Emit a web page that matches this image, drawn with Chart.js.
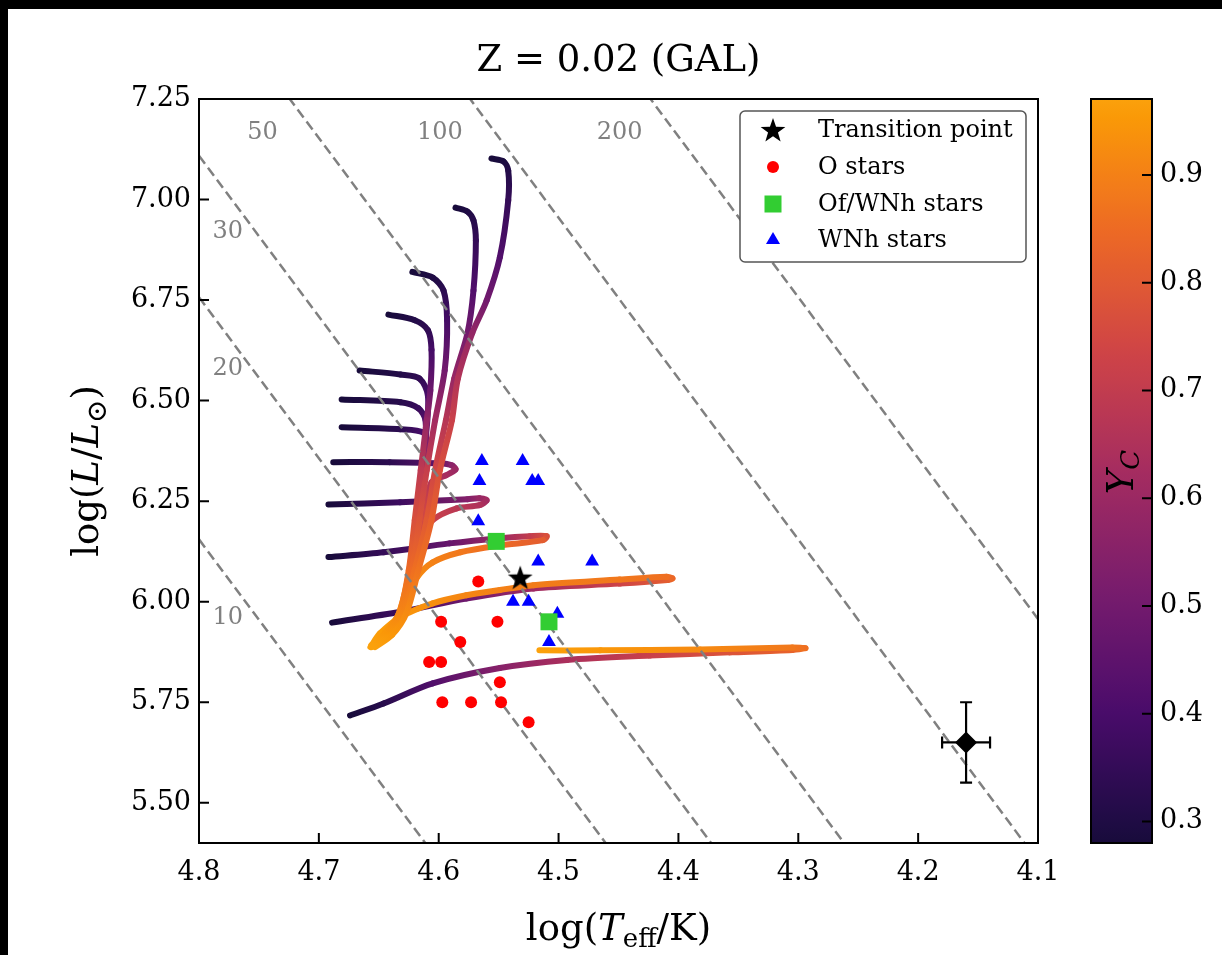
<!DOCTYPE html>
<html>
<head>
<meta charset="utf-8">
<script src="https://cdn.jsdelivr.net/npm/chart.js@4.4.1/dist/chart.umd.min.js"></script>
<style>
  html, body { margin: 0; padding: 0; background: #fff; }
  canvas { display: block; }
</style>
</head>
<body>
<canvas id="hrd" width="1222" height="955" style="width:1222px;height:955px"></canvas>
<script>
// evolutionary tracks: [log Teff, log L, Yc]
const track1 = [[4.556,7.102,0.28],[4.546,7.095,0.29],[4.542,7.072,0.31],[4.542,6.998,0.35],[4.549,6.856,0.42],[4.560,6.749,0.50],[4.572,6.668,0.58],[4.584,6.555,0.66],[4.589,6.451,0.72],[4.599,6.327,0.77],[4.606,6.203,0.82],[4.617,6.078,0.87],[4.627,5.971,0.92],[4.639,5.917,0.95],[4.653,5.887,0.97]];
const track2 = [[4.586,6.980,0.28],[4.576,6.970,0.30],[4.571,6.948,0.32],[4.569,6.898,0.35],[4.571,6.774,0.42],[4.576,6.668,0.50],[4.587,6.555,0.59],[4.594,6.451,0.67],[4.603,6.327,0.74],[4.610,6.203,0.80],[4.620,6.078,0.86],[4.629,5.971,0.91],[4.641,5.917,0.95],[4.655,5.892,0.97]];
const track3 = [[4.622,6.820,0.28],[4.605,6.806,0.30],[4.596,6.774,0.33],[4.593,6.700,0.39],[4.595,6.575,0.50],[4.603,6.451,0.62],[4.610,6.327,0.71],[4.616,6.203,0.78],[4.622,6.078,0.85],[4.631,5.971,0.91],[4.643,5.917,0.95],[4.656,5.892,0.97]];
const track4 = [[4.642,6.714,0.28],[4.620,6.700,0.31],[4.609,6.675,0.34],[4.606,6.626,0.39],[4.607,6.525,0.48],[4.610,6.451,0.58],[4.615,6.327,0.69],[4.620,6.203,0.77],[4.625,6.078,0.85],[4.633,5.971,0.91],[4.645,5.922,0.95],[4.656,5.892,0.97]];
const track5 = [[4.666,6.575,0.28],[4.632,6.565,0.31],[4.616,6.555,0.34],[4.609,6.512,0.40],[4.611,6.401,0.52],[4.616,6.277,0.66],[4.621,6.153,0.76],[4.626,6.053,0.84],[4.634,5.966,0.91],[4.646,5.917,0.95],[4.656,5.887,0.97]];
const track6 = [[4.681,6.503,0.28],[4.632,6.496,0.32],[4.617,6.481,0.36],[4.611,6.451,0.43],[4.612,6.352,0.55],[4.616,6.227,0.68],[4.621,6.116,0.78],[4.627,6.016,0.87],[4.636,5.949,0.93],[4.651,5.899,0.97]];
const track7 = [[4.681,6.434,0.28],[4.632,6.429,0.33],[4.613,6.421,0.40],[4.610,6.389,0.46],[4.612,6.302,0.60],[4.617,6.178,0.73],[4.623,6.066,0.83],[4.631,5.979,0.90],[4.643,5.922,0.95],[4.654,5.889,0.97]];
const track8 = [[4.688,6.347,0.28],[4.641,6.347,0.33],[4.599,6.344,0.46],[4.589,6.339,0.56],[4.586,6.329,0.60],[4.594,6.314,0.63],[4.606,6.297,0.67],[4.612,6.227,0.74],[4.617,6.128,0.81],[4.624,6.029,0.88],[4.635,5.954,0.93],[4.651,5.897,0.97]];
const track9 = [[4.692,6.242,0.28],[4.632,6.247,0.37],[4.576,6.255,0.54],[4.566,6.257,0.59],[4.560,6.252,0.62],[4.566,6.240,0.65],[4.585,6.232,0.68],[4.605,6.203,0.72],[4.611,6.165,0.76],[4.616,6.103,0.82],[4.624,6.024,0.88],[4.635,5.949,0.93],[4.652,5.897,0.97]];
const track10 = [[4.692,6.111,0.28],[4.646,6.123,0.35],[4.591,6.145,0.47],[4.549,6.158,0.60],[4.524,6.163,0.70],[4.510,6.163,0.77],[4.513,6.153,0.81],[4.549,6.140,0.85],[4.582,6.123,0.88],[4.605,6.098,0.90],[4.618,6.061,0.92],[4.626,6.011,0.94],[4.635,5.954,0.96],[4.652,5.897,0.97]];
const track11 = [[4.689,5.948,0.28],[4.632,5.975,0.37],[4.577,6.008,0.49],[4.521,6.033,0.61],[4.449,6.045,0.73],[4.409,6.054,0.81],[4.405,6.058,0.84],[4.410,6.062,0.86],[4.449,6.055,0.88],[4.521,6.041,0.89],[4.549,6.029,0.90],[4.577,6.016,0.91],[4.605,5.996,0.93],[4.632,5.962,0.95],[4.649,5.921,0.96],[4.657,5.887,0.97]];
const track12 = [[4.674,5.717,0.28],[4.646,5.747,0.32],[4.605,5.797,0.42],[4.549,5.835,0.55],[4.493,5.855,0.64],[4.424,5.866,0.72],[4.357,5.874,0.78],[4.305,5.880,0.83],[4.294,5.884,0.86],[4.305,5.886,0.88],[4.382,5.881,0.92],[4.465,5.879,0.95],[4.516,5.879,0.97]];
const tracks = [track1, track2, track3, track4, track5, track6, track7, track8, track9, track10, track11, track12];

// observed stars
const oStarsT = [4.567, 4.598, 4.551, 4.582, 4.608, 4.598, 4.549, 4.597, 4.573, 4.548, 4.525];
const oStarsL = [6.05, 5.95, 5.95, 5.90, 5.85, 5.85, 5.80, 5.75, 5.75, 5.75, 5.70];
const ofStarsT = [4.552, 4.508];
const ofStarsL = [6.15, 5.95];
const wnhT = [4.564, 4.530, 4.566, 4.522, 4.517, 4.567, 4.517, 4.472, 4.538, 4.525, 4.501, 4.507, 4.508];
const wnhL = [6.35, 6.35, 6.30, 6.30, 6.30, 6.20, 6.10, 6.10, 6.00, 6.00, 5.97, 5.95, 5.90];
const transT = [4.532];
const transL = [6.06];

// typical uncertainty
const errT = [4.16];
const errL = [5.65];
const errDT = [0.02];
const errDL = [0.10];

// lines of constant radius (R/Rsun), log L where they meet logT = 4.8 and logT = 4.1
const isoRadius = [10, 20, 30, 50, 100, 200];
const isoL48 = [6.155, 6.757, 7.109, 7.553, 8.155, 8.757];
const isoL41 = [3.355, 3.957, 4.309, 4.753, 5.355, 5.957];
const isoLabelT = [4.776, 4.776, 4.776, 4.747, 4.599, 4.449];
const isoLabelL = [5.96, 6.58, 6.92, 7.165, 7.165, 7.165];

const xTicks = [4.8, 4.7, 4.6, 4.5, 4.4, 4.3, 4.2, 4.1];
const yTicks = [5.5, 5.75, 6.0, 6.25, 6.5, 6.75, 7.0, 7.25];
const cbTicks = [0.3, 0.4, 0.5, 0.6, 0.7, 0.8, 0.9];
const cbMin = 0.280, cbMax = 0.9705;

const SERIF = "'DejaVu Serif', serif";

// inferno samples at i/9
const inferno = ['#000004','#1b0c41','#4a0c6b','#781c6d','#a52c60','#cf4446','#ed6925','#fb9b06','#f7d13d','#fcffa4'];
const cmapLo = 0.1, cmapHi = 0.79;

function hexRgb(h) {
  return [parseInt(h.slice(1,3),16), parseInt(h.slice(3,5),16), parseInt(h.slice(5,7),16)];
}
function infernoAt(p) {
  const f = Math.max(0, Math.min(1, p)) * 9;
  const i = Math.min(8, Math.floor(f));
  const t = f - i;
  const a = hexRgb(inferno[i]), b = hexRgb(inferno[i + 1]);
  const c = a.map((v, k) => Math.round(v + (b[k] - v) * t));
  return `rgb(${c[0]},${c[1]},${c[2]})`;
}
function ycColor(v) {
  const t = Math.max(0, Math.min(1, (v - cbMin) / (cbMax - cbMin)));
  return infernoAt(cmapLo + t * (cmapHi - cmapLo));
}

function makeStar(r, color) {
  const c = document.createElement('canvas');
  const s = Math.ceil(2 * r + 4);
  c.width = s; c.height = s;
  const g = c.getContext('2d');
  g.translate(s / 2, s / 2 + 1);
  g.beginPath();
  for (let i = 0; i < 10; i++) {
    const rad = i % 2 ? r * 0.4 : r;
    const a = -Math.PI / 2 + i * Math.PI / 5;
    g.lineTo(rad * Math.cos(a), rad * Math.sin(a));
  }
  g.closePath();
  g.fillStyle = color;
  g.fill();
  return c;
}
const starImg = makeStar(13, '#000');

const zip = (xs, ys) => xs.map((x, i) => ({x: x, y: ys[i]}));

const datasets = [];

// observed stars on top
datasets.push({label: 'Transition point', data: zip(transT, transL), pointStyle: starImg, pointRadius: 12, order: 0, marker: 'star'});
datasets.push({label: 'O stars', data: zip(oStarsT, oStarsL), pointStyle: 'circle', pointRadius: 6,
  backgroundColor: '#ff0000', pointBorderWidth: 0, order: 0, marker: 'circle'});
datasets.push({label: 'Of/WNh stars', data: zip(ofStarsT, ofStarsL), pointStyle: 'rect', pointRadius: 12,
  backgroundColor: '#32cd32', pointBorderWidth: 0, order: 0, marker: 'square'});
datasets.push({label: 'WNh stars', data: zip(wnhT, wnhL), pointStyle: 'triangle', pointRadius: 8,
  backgroundColor: '#0000ff', pointBorderWidth: 0, order: 0, marker: 'triangle'});
datasets.push({label: 'err', data: zip(errT, errL), pointStyle: 'rectRot', pointRadius: 11,
  backgroundColor: '#000', pointBorderWidth: 0, order: 0});

isoRadius.forEach((r, i) => {
  datasets.push({
    label: 'R' + r, data: [{x: 4.8, y: isoL48[i]}, {x: 4.1, y: isoL41[i]}],
    showLine: true, borderColor: '#808080', borderWidth: 2.5, borderDash: [10, 5],
    pointRadius: 0, order: 1
  });
});

tracks.forEach((tr, i) => {
  datasets.push({
    label: 'track' + (i + 1),
    data: tr.map(p => ({x: p[0], y: p[1], yc: p[2]})),
    showLine: true, pointRadius: 0, borderWidth: 6, tension: 0.3,
    borderCapStyle: 'round', borderJoinStyle: 'round',
    borderColor: ycColor(tr[0][2]), order: 2,
    segment: {
      borderColor: (c) => {
        const d = c.chart.data.datasets[c.datasetIndex].data;
        const g = c.chart.ctx.createLinearGradient(c.p0.x, c.p0.y, c.p1.x + 0.01, c.p1.y + 0.01);
        g.addColorStop(0, ycColor(d[c.p0DataIndex].yc));
        g.addColorStop(1, ycColor(d[c.p1DataIndex].yc));
        return g;
      }
    }
  });
});

function richText(c, parts, x, y) {
  let w = 0;
  parts.forEach(p => { c.font = p.font; p.w = c.measureText(p.text).width; w += p.w; });
  let cx = x - w / 2;
  c.textAlign = 'left';
  c.textBaseline = 'alphabetic';
  parts.forEach(p => { c.font = p.font; c.fillText(p.text, cx, y + (p.dy || 0)); cx += p.w; });
}

function drawMarker(c, kind, x, y) {
  c.save();
  if (kind === 'star') {
    c.drawImage(starImg, x - starImg.width / 2, y - starImg.height / 2);
  } else if (kind === 'circle') {
    c.fillStyle = '#ff0000';
    c.beginPath(); c.arc(x, y, 6, 0, 2 * Math.PI); c.fill();
  } else if (kind === 'square') {
    c.fillStyle = '#32cd32';
    c.fillRect(x - 8.5, y - 8.5, 17, 17);
  } else if (kind === 'triangle') {
    c.fillStyle = '#0000ff';
    c.beginPath(); c.moveTo(x, y - 8); c.lineTo(x + 7, y + 4); c.lineTo(x - 7, y + 4);
    c.closePath(); c.fill();
  }
  c.restore();
}

const decorations = {
  id: 'decorations',
  beforeDraw(chart) {
    const c = chart.ctx;
    c.save();
    c.fillStyle = '#fff';
    c.fillRect(0, 0, chart.width, chart.height);
    c.fillStyle = '#000';
    c.fillRect(0, 0, chart.width, 9);
    c.fillRect(0, 0, 8, chart.height);
    c.restore();
  },
  afterDatasetsDraw(chart) {
    const c = chart.ctx, xs = chart.scales.x, ys = chart.scales.y;
    c.save();
    c.strokeStyle = '#000';
    c.lineWidth = 2.2;
    errT.forEach((t, i) => {
      const px = xs.getPixelForValue(t), py = ys.getPixelForValue(errL[i]);
      const x0 = xs.getPixelForValue(t + errDT[i]), x1 = xs.getPixelForValue(t - errDT[i]);
      const y0 = ys.getPixelForValue(errL[i] + errDL[i]), y1 = ys.getPixelForValue(errL[i] - errDL[i]);
      c.beginPath();
      c.moveTo(x0, py); c.lineTo(x1, py);
      c.moveTo(px, y0); c.lineTo(px, y1);
      c.moveTo(x0, py - 6); c.lineTo(x0, py + 6);
      c.moveTo(x1, py - 6); c.lineTo(x1, py + 6);
      c.moveTo(px - 6, y0); c.lineTo(px + 6, y0);
      c.moveTo(px - 6, y1); c.lineTo(px + 6, y1);
      c.stroke();
    });
    c.restore();
  },
  afterDraw(chart) {
    const c = chart.ctx, a = chart.chartArea, xs = chart.scales.x, ys = chart.scales.y;
    c.save();

    // iso-radius labels
    c.fillStyle = '#808080';
    c.font = '24px ' + SERIF;
    c.textAlign = 'center';
    c.textBaseline = 'middle';
    isoRadius.forEach((r, i) => {
      c.fillText(String(r), xs.getPixelForValue(isoLabelT[i]), ys.getPixelForValue(isoLabelL[i]));
    });

    // frame and inward ticks
    c.strokeStyle = '#000';
    c.lineWidth = 2;
    c.strokeRect(a.left, a.top, a.right - a.left, a.bottom - a.top);
    c.beginPath();
    xTicks.forEach(v => { const p = xs.getPixelForValue(v); c.moveTo(p, a.bottom); c.lineTo(p, a.bottom - 10); });
    yTicks.forEach(v => { const p = ys.getPixelForValue(v); c.moveTo(a.left, p); c.lineTo(a.left + 10, p); });
    c.stroke();

    // legend
    const lx = 740, ly = 111, lw = 286, lh = 151;
    c.beginPath();
    c.roundRect(lx, ly, lw, lh, 5);
    c.fillStyle = '#fff';
    c.fill();
    c.strokeStyle = '#555';
    c.lineWidth = 1.5;
    c.stroke();
    const rows = [130, 167, 204, 240];
    const entries = chart.data.datasets.filter(d => d.marker);
    c.font = '24px ' + SERIF;
    c.textAlign = 'left';
    c.textBaseline = 'middle';
    entries.forEach((d, i) => {
      drawMarker(c, d.marker, 773, rows[i]);
      c.fillStyle = '#000';
      c.fillText(d.label, 818, rows[i] + 1);
    });

    // colorbar
    const cx0 = 1091, cx1 = 1152, ct = a.top, cb = a.bottom;
    const grad = c.createLinearGradient(0, cb, 0, ct);
    for (let k = 0; k <= 40; k++) {
      grad.addColorStop(k / 40, infernoAt(cmapLo + (k / 40) * (cmapHi - cmapLo)));
    }
    c.fillStyle = grad;
    c.fillRect(cx0, ct, cx1 - cx0, cb - ct);
    c.strokeStyle = '#000';
    c.lineWidth = 2;
    c.strokeRect(cx0, ct, cx1 - cx0, cb - ct);
    const cbPix = v => cb - (v - cbMin) / (cbMax - cbMin) * (cb - ct);
    c.beginPath();
    cbTicks.forEach(v => { const p = cbPix(v); c.moveTo(cx1, p); c.lineTo(cx1 - 10, p); });
    c.stroke();
    c.font = '27px ' + SERIF;
    c.fillStyle = '#000';
    c.textAlign = 'left';
    c.textBaseline = 'middle';
    cbTicks.forEach(v => c.fillText(v.toFixed(1), 1160, cbPix(v)));
    c.save();
    c.translate(1133, 472);
    c.rotate(-Math.PI / 2);
    richText(c, [
      {text: 'Y', font: 'italic 37px ' + SERIF},
      {text: 'C', font: 'italic 26px ' + SERIF, dy: 6}
    ], 0, 0);
    c.restore();

    // title
    c.fillStyle = '#000';
    c.font = '37px ' + SERIF;
    c.textAlign = 'center';
    c.textBaseline = 'alphabetic';
    c.fillText('Z = 0.02 (GAL)', (a.left + a.right) / 2, 71);

    // x-axis title
    richText(c, [
      {text: 'log(', font: '37px ' + SERIF},
      {text: 'T', font: 'italic 37px ' + SERIF},
      {text: 'eff', font: '26px ' + SERIF, dy: 7},
      {text: '/K)', font: '37px ' + SERIF}
    ], (a.left + a.right) / 2, 940);

    // y-axis title
    c.save();
    c.translate(98, (a.top + a.bottom) / 2);
    c.rotate(-Math.PI / 2);
    richText(c, [
      {text: 'log(', font: '37px ' + SERIF},
      {text: 'L', font: 'italic 37px ' + SERIF},
      {text: '/', font: '37px ' + SERIF},
      {text: 'L', font: 'italic 37px ' + SERIF},
      {text: '\u2299', font: '28px ' + SERIF, dy: 8},
      {text: ')', font: '37px ' + SERIF}
    ], 0, 0);
    c.restore();

    c.restore();
  }
};

new Chart(document.getElementById('hrd').getContext('2d'), {
  type: 'scatter',
  data: {datasets: datasets},
  options: {
    responsive: false,
    animation: false,
    devicePixelRatio: 1,
    events: [],
    layout: {padding: {left: 0, top: 99, right: 184, bottom: 0}},
    plugins: {
      legend: {display: false},
      tooltip: {enabled: false},
      title: {display: false}
    },
    scales: {
      x: {
        type: 'linear', min: 4.1, max: 4.8, reverse: true,
        afterFit: (s) => { s.height = 112; },
        afterBuildTicks: (s) => { s.ticks = xTicks.map(v => ({value: v})); },
        ticks: {
          color: '#000', padding: 14, maxRotation: 0, autoSkip: false,
          font: {family: SERIF, size: 27},
          callback: (v) => v.toFixed(1)
        },
        grid: {display: false, drawTicks: false},
        border: {display: false}
      },
      y: {
        type: 'linear', min: 5.4, max: 7.25,
        afterFit: (s) => { s.width = 199; },
        afterBuildTicks: (s) => { s.ticks = yTicks.map(v => ({value: v})); },
        ticks: {
          color: '#000', padding: 8, autoSkip: false,
          font: {family: SERIF, size: 27},
          callback: (v) => v.toFixed(2)
        },
        grid: {display: false, drawTicks: false},
        border: {display: false}
      }
    }
  },
  plugins: [decorations]
});
</script>
</body>
</html>
